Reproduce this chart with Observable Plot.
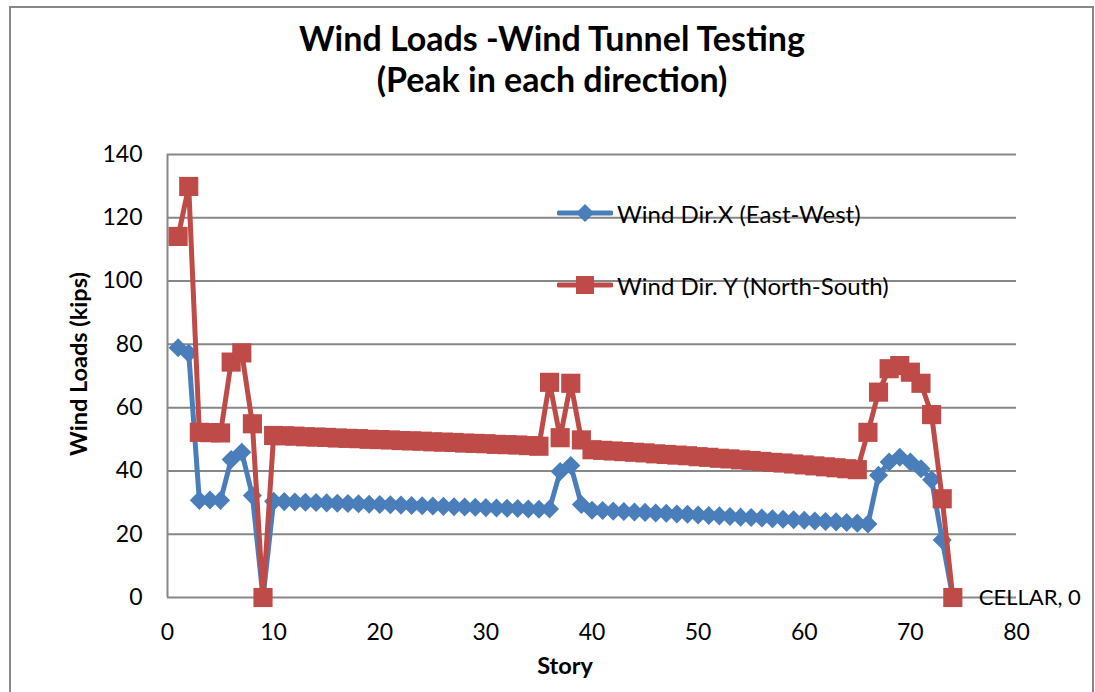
<!DOCTYPE html>
<html>
<head>
<meta charset="utf-8">
<script src="https://cdn.jsdelivr.net/npm/d3@7"></script>
<script src="https://cdn.jsdelivr.net/npm/@observablehq/plot@0.6"></script>
<style>
  html, body { margin: 0; padding: 0; background: #fff; }
  #wrap { position: relative; width: 1095px; height: 692px; overflow: hidden; background: #fff;
          font-family: Lato, "Open Sans", "DejaVu Sans", sans-serif; color: #000; }
  #frame { position: absolute; left: 9px; top: 6px; width: 1085px; height: 720px;
           border: 2px solid #878787; box-sizing: border-box; }
  #title { position: absolute; left: 202px; width: 700px; top: 17px; text-align: center;
           font-weight: 700; font-size: 34px; line-height: 41px; }
  #chart { position: absolute; left: 0; top: 130px; }
  #legend { position: absolute; left: 0; top: 0; width: 1095px; height: 692px; pointer-events: none; }
  .item { position: absolute; display: flex; align-items: center; font-size: 24px; white-space: nowrap; }
  .item svg { display: block; margin-right: 4px; }
</style>
</head>
<body>
<div id="wrap">
  <div id="frame"></div>
  <div id="title">Wind Loads -Wind Tunnel Testing<br>(Peak in each direction)</div>
  <div id="chart"></div>
  <div id="legend"></div>
</div>
<script>
// Story numbers (x) and peak wind loads in kips for each direction
const stories = [
  1, 2, 3, 4, 5, 6, 7, 8, 9, 10,
  11, 12, 13, 14, 15, 16, 17, 18, 19, 20,
  21, 22, 23, 24, 25, 26, 27, 28, 29, 30,
  31, 32, 33, 34, 35, 36, 37, 38, 39, 40,
  41, 42, 43, 44, 45, 46, 47, 48, 49, 50,
  51, 52, 53, 54, 55, 56, 57, 58, 59, 60,
  61, 62, 63, 64, 65, 66, 67, 68, 69, 70,
  71, 72, 73, 74
];

const windX = [
  78.9, 77.2, 30.7, 30.8, 30.7, 43.6, 45.9, 32.2, 0, 30.4,
  30.3, 30.2, 30.1, 30.0, 29.9, 29.8, 29.7, 29.6, 29.5, 29.4,
  29.3, 29.2, 29.1, 29.0, 28.9, 28.8, 28.7, 28.6, 28.5, 28.4,
  28.3, 28.2, 28.1, 28.0, 27.9, 28.0, 39.8, 41.7, 29.4, 27.6,
  27.5, 27.3, 27.2, 27.0, 26.9, 26.7, 26.6, 26.4, 26.3, 26.1,
  25.9, 25.8, 25.6, 25.4, 25.3, 25.1, 24.9, 24.7, 24.6, 24.4,
  24.2, 24.0, 23.9, 23.7, 23.5, 23.2, 38.6, 42.8, 44.3, 42.8,
  40.7, 37.2, 18.2, 0
];

const windY = [
  114.1, 129.9, 52.2, 52.1, 52.0, 74.4, 77.3, 54.9, 0, 51.2,
  51.1, 51.0, 50.8, 50.7, 50.6, 50.4, 50.3, 50.2, 50.0, 49.9,
  49.8, 49.6, 49.5, 49.4, 49.2, 49.1, 49.0, 48.8, 48.7, 48.6,
  48.4, 48.3, 48.2, 48.0, 47.8, 68.0, 50.5, 67.7, 49.8, 46.7,
  46.5, 46.3, 46.1, 45.9, 45.7, 45.4, 45.2, 45.0, 44.8, 44.5,
  44.3, 44.0, 43.8, 43.5, 43.3, 43.0, 42.7, 42.5, 42.2, 41.9,
  41.6, 41.3, 41.0, 40.7, 40.4, 52.2, 64.9, 72.3, 73.3, 71.2,
  67.7, 57.8, 31.2, 0
];

const seriesNames = ["Wind Dir.X (East-West)", "Wind Dir. Y (North-South)"];
const xTicks = [0, 10, 20, 30, 40, 50, 60, 70, 80];
const yTicks = [0, 20, 40, 60, 80, 100, 120, 140];
const pointNote = "CELLAR"; // name given to the last story

const blue = "#4A7EBB";
const red = "#BE4B48";
const grid = "#878787";

const rows = stories.map((s, i) => ({story: s, x: windX[i], y: windY[i]}));
const last = rows[rows.length - 1];
const noteRows = [{story: last.story, value: last.y, text: `${pointNote}, ${last.y}`}];

const chart = Plot.plot({
  width: 1095,
  height: 562,
  marginLeft: 167,
  marginRight: 79,
  marginTop: 24,
  marginBottom: 95,
  style: {fontFamily: 'Lato, "Open Sans", sans-serif', fontSize: "23px", color: "#000", background: "transparent", overflow: "visible"},
  x: {domain: [0, 80]},
  y: {domain: [0, 140]},
  marks: [
    Plot.gridY(yTicks, {stroke: grid, strokeOpacity: 1, strokeWidth: 2}),
    Plot.ruleX([0], {y1: 0, y2: 140, stroke: grid, strokeWidth: 2}),
    Plot.axisX(xTicks, {tickSize: 0, tickPadding: 26, label: null, fontSize: 23}),
    Plot.axisY(yTicks, {tickSize: 0, tickPadding: 25, label: null, fontSize: 23}),
    Plot.text(["Story"], {frameAnchor: "bottom", lineAnchor: "middle", dx: -27, dy: 69, fontWeight: "bold", fontSize: 23.5}),
    Plot.text(["Wind Loads (kips)"], {frameAnchor: "left", textAnchor: "middle", lineAnchor: "middle", rotate: -90, dx: -88, dy: -12, fontWeight: "bold", fontSize: 23.5}),
    Plot.line(rows, {x: "story", y: "x", stroke: blue, strokeWidth: 5, strokeLinejoin: "round"}),
    Plot.dot(rows, {x: "story", y: "x", symbol: "square", rotate: 45, r: 7.6, fill: blue}),
    Plot.line(rows, {x: "story", y: "y", stroke: red, strokeWidth: 5, strokeLinejoin: "round"}),
    Plot.dot(rows, {x: "story", y: "y", symbol: "square", r: 10.8, fill: red}),
    Plot.text(noteRows, {x: "story", y: "value", text: "text", textAnchor: "start", dx: 26, fontSize: 22, fill: "#000"})
  ]
});
document.getElementById("chart").appendChild(chart);

// Legend entries overlaid on the plot area
const legend = document.getElementById("legend");
const entries = [
  {name: seriesNames[0], color: blue, shape: "diamond", top: 213},
  {name: seriesNames[1], color: red, shape: "square", top: 285}
];
for (const e of entries) {
  const item = document.createElement("div");
  item.className = "item";
  item.style.left = "557px";
  item.style.top = (e.top - 15) + "px";
  item.style.height = "30px";
  const marker = e.shape === "diamond"
    ? `<path d="M28,6 L37,15 L28,24 L19,15 Z" fill="${e.color}"/>`
    : `<rect x="19" y="6" width="18" height="18" fill="${e.color}"/>`;
  item.innerHTML = `<svg width="56" height="30"><line x1="2" x2="54" y1="15" y2="15" stroke="${e.color}" stroke-width="5" stroke-linecap="round"/>${marker}</svg><span>${e.name}</span>`;
  legend.appendChild(item);
}
</script>
</body>
</html>
